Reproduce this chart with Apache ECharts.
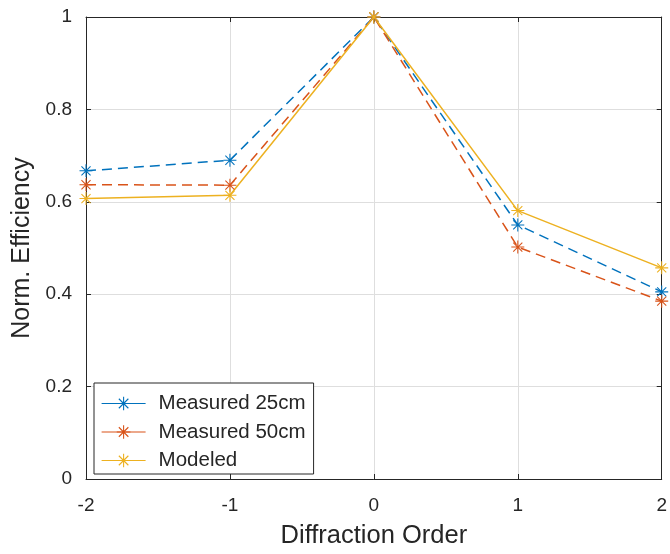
<!DOCTYPE html>
<html>
<head>
<meta charset="utf-8">
<script src="https://cdn.jsdelivr.net/npm/echarts@6/dist/echarts.min.js"></script>
<style>
html,body{margin:0;padding:0;background:#fff;}
#chart{width:670px;height:554px;}
</style>
</head>
<body>
<div id="chart"></div>
<script>
// ---- data ----
const orders = [-2, -1, 0, 1, 2];
const measured25 = [0.667, 0.690, 1.0, 0.550, 0.405];
const measured50 = [0.637, 0.636, 1.0, 0.502, 0.385];
const modeled = [0.607, 0.614, 1.0, 0.581, 0.457];
const seriesNames = ['Measured 25cm', 'Measured 50cm', 'Modeled'];
const xTicks = [-2, -1, 0, 1, 2];
const yTicks = [0, 0.2, 0.4, 0.6, 0.8, 1];

const FONT = '"Liberation Sans", Arial, Helvetica, sans-serif';
const AX = '#262626';
const colors = ['#0072BD', '#D95319', '#EDB120'];

const asterisk = 'path://' +
  'M-0.08 -1 L0.08 -1 L0.08 1 L-0.08 1 Z ' +
  'M-1 -0.08 L1 -0.08 L1 0.08 L-1 0.08 Z ' +
  'M-0.643 -0.757 L0.757 0.643 L0.643 0.757 L-0.757 -0.643 Z ' +
  'M-0.757 0.643 L0.643 -0.757 L0.757 -0.643 L-0.643 0.757 Z';

function pairs(vals) { return orders.map((o, i) => [o, vals[i]]); }

function mkSeries(name, vals, color, dashed) {
  return {
    name: name,
    type: 'line',
    data: pairs(vals),
    symbol: asterisk,
    symbolSize: 13,
    clip: false,
    z: 5,
    itemStyle: { color: color },
    lineStyle: { color: color, width: 1.5, type: dashed ? [10, 6] : 'solid' },
    emphasis: { disabled: true },
    animation: false
  };
}

const chart = echarts.init(document.getElementById('chart'), null, { renderer: 'canvas' });

const baseAxisLine = { show: true, onZero: false, lineStyle: { color: AX, width: 1 } };
const tick = { show: true, inside: true, length: 5, lineStyle: { color: AX, width: 1 } };

chart.setOption({
  backgroundColor: '#ffffff',
  animation: false,
  grid: { left: 86, right: 5, top: 17, bottom: 73, containLabel: false },
  legend: {
    orient: 'vertical',
    left: 94,
    top: 383,
    data: seriesNames,
    backgroundColor: '#ffffff',
    borderColor: AX,
    borderWidth: 1,
    borderRadius: 0,
    padding: [10, 8, 3, 7],
    itemWidth: 44,
    itemHeight: 17,
    itemGap: 7.5,
    selectedMode: false,
    lineStyle: { type: 'solid', width: 1.2 },
    textStyle: { fontFamily: FONT, fontSize: 20.5, color: AX, padding: [0, 0, 0, 8] }
  },
  xAxis: [{
    type: 'value',
    min: xTicks[0],
    max: xTicks[xTicks.length - 1],
    interval: 1,
    name: 'Diffraction Order',
    nameLocation: 'middle',
    nameGap: 44,
    nameTextStyle: { fontFamily: FONT, fontSize: 25.5, color: AX },
    axisLine: baseAxisLine,
    axisTick: tick,
    axisLabel: { fontFamily: FONT, fontSize: 19, color: AX, margin: 17 },
    splitLine: { show: true, lineStyle: { color: '#dedede', width: 1 } }
  }, {
    type: 'value',
    position: 'top',
    min: xTicks[0],
    max: xTicks[xTicks.length - 1],
    interval: 1,
    axisLine: baseAxisLine,
    axisTick: tick,
    axisLabel: { show: false },
    splitLine: { show: false }
  }],
  yAxis: [{
    type: 'value',
    min: yTicks[0],
    max: yTicks[yTicks.length - 1],
    interval: 0.2,
    name: 'Norm. Efficiency',
    nameLocation: 'middle',
    nameGap: 44,
    nameRotate: 90,
    nameTextStyle: { fontFamily: FONT, fontSize: 25, color: AX },
    axisLine: baseAxisLine,
    axisTick: tick,
    axisLabel: { fontFamily: FONT, fontSize: 19, color: AX, margin: 14 },
    splitLine: { show: true, lineStyle: { color: '#dedede', width: 1 } }
  }, {
    type: 'value',
    position: 'right',
    min: yTicks[0],
    max: yTicks[yTicks.length - 1],
    interval: 0.2,
    axisLine: baseAxisLine,
    axisTick: tick,
    axisLabel: { show: false },
    splitLine: { show: false }
  }],
  series: [
    mkSeries(seriesNames[0], measured25, colors[0], true),
    mkSeries(seriesNames[1], measured50, colors[1], true),
    mkSeries(seriesNames[2], modeled, colors[2], false)
  ]
});
</script>
</body>
</html>
